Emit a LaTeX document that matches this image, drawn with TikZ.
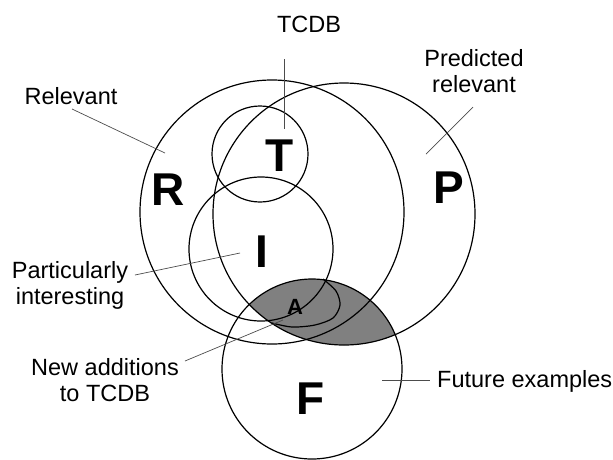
\documentclass[tikz,border=0pt]{standalone}
\usepackage{fontspec}
\setmainfont{Liberation Sans}
\tikzset{
	set/.style={line width=1.2pt},
	lead/.style={line width=0.7pt, black!70},
	lbl/.style={font=\fontsize{23.5}{26}\selectfont, align=center, inner sep=0pt},
	setname/.style={font=\fontsize{46}{46}\selectfont\bfseries, inner sep=0pt, anchor=base},
}

\begin{document}
\begin{tikzpicture}[x=1pt,y=-1pt]

	\useasboundingbox (0,0) rectangle (613,459);
	\coordinate (r) at (272,212);
	\coordinate (p) at (344,214);
	\coordinate (t) at (260,154);
	\coordinate (i) at (261,249);
	\coordinate (f) at (312,369);
	\begin{scope}
		\clip (p) circle[radius=131pt];
		\fill[gray] (f) circle[radius=90pt];
	\end{scope}
	\draw[set] (r) circle[radius=132pt];
	\draw[set] (p) circle[radius=131pt];
	\draw[set] (t) circle[radius=48pt];
	\draw[set] (i) circle[radius=72pt];
	\draw[set] (f) circle[radius=90pt];
	\draw[set] plot[smooth] coordinates {(323,279) (336,291) (340,305) (333,318) (315,325) (292,327) (272,323)};

	\node[setname] (R) at (168,205) {R};
	\node[setname] (T) at (280,171) {T};
	\node[setname] (P) at (449,203) {P};
	\node[setname] (I) at (262,267) {I};
	\node[setname] (F) at (311,414) {F};
	\node[setname, font=\fontsize{22}{22}\selectfont\bfseries] (A) at (295,314) {A};

	\node[lbl, anchor=base] (tcdb) at (309,32) {TCDB};
	\node[lbl, anchor=base] (relevant) at (71,104) {Relevant};
	\node[lbl] (predicted) at (474,71) {Predicted\\relevant};
	\node[lbl] (interesting) at (70,285) {Particularly\\interesting};
	\node[lbl] (additions) at (105,380) {New additions\\to TCDB};
	\node[lbl, anchor=base west] (future) at (437,387) {Future examples};

	\coordinate (tcdb1) at (284,59);
	\coordinate (tcdb2) at (284,129);
	\coordinate (rel1) at (72,109);
	\coordinate (rel2) at (165,153);
	\coordinate (pred1) at (473,107);
	\coordinate (pred2) at (426,154);
	\coordinate (int1) at (135,275);
	\coordinate (int2) at (240,253);
	\coordinate (add1) at (185,361);
	\coordinate (add2) at (283,320);
	\coordinate (fut1) at (382,380);
	\coordinate (fut2) at (430,380);
	\draw[lead] (tcdb1) -- (tcdb2);
	\draw[lead] (rel1) -- (rel2);
	\draw[lead] (pred1) -- (pred2);
	\draw[lead] (int1) -- (int2);
	\draw[lead] (add1) -- (add2);
	\draw[lead] (fut1) -- (fut2);

\end{tikzpicture}
\end{document}
